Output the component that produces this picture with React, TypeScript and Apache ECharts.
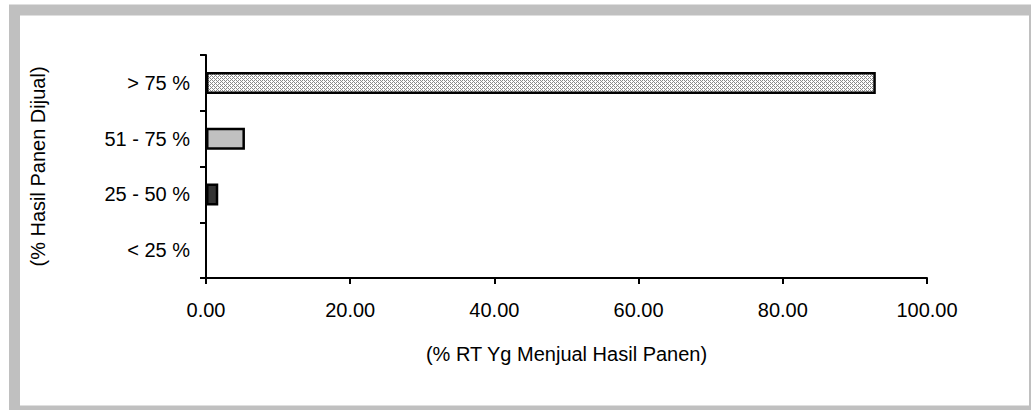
import React, { useEffect, useRef } from "react";
import * as echarts from "echarts";

const categories = ["< 25 %", "25 - 50 %", "51 - 75 %", "> 75 %"];
const values = [0, 1.7, 5.4, 92.9];
const xTicks = [0, 20, 40, 60, 80, 100];
const xTitle = "(% RT Yg Menjual Hasil Panen)";
const yTitle = "(% Hasil Panen Dijual)";

function makePattern(): HTMLCanvasElement {
  const c = document.createElement("canvas");
  c.width = 4;
  c.height = 4;
  const ctx = c.getContext("2d")!;
  ctx.fillStyle = "#ffffff";
  ctx.fillRect(0, 0, 4, 4);
  ctx.fillStyle = "#8a8a8a";
  const cells = [
    [0, 0], [2, 0], [1, 1], [0, 2], [2, 2], [3, 3],
  ];
  cells.forEach(([x, y]) => ctx.fillRect(x, y, 1, 1));
  return c;
}

export default function App() {
  const ref = useRef<HTMLDivElement>(null);
  useEffect(() => {
    const chart = echarts.init(ref.current!, null, { renderer: "svg" });
    const pattern = makePattern();
    const fills: any[] = ["#ffffff", "#333333", "#c0c0c0", { image: pattern, repeat: "repeat" }];
    const font = { fontFamily: "Liberation Sans, Arial, sans-serif", fontSize: 20, color: "#000" };
    chart.setOption({
      animation: false,
      backgroundColor: "#ffffff",
      graphic: [
        {
          type: "rect",
          shape: { x: 14.5, y: 10, width: 1020, height: 401 },
          style: { fill: "none", stroke: "#c0c0c0", lineWidth: 11 },
          silent: true,
          z: -10,
        },
      ],
      grid: { left: 206, right: 104, top: 55, bottom: 132, containLabel: false },
      xAxis: {
        type: "value",
        min: 0,
        max: 100,
        interval: 20,
        name: xTitle,
        nameLocation: "middle",
        nameGap: 66,
        nameTextStyle: font,
        axisLine: { show: true, lineStyle: { color: "#000", width: 2 } },
        axisTick: { show: true, length: 6, lineStyle: { color: "#000", width: 2 } },
        splitLine: { show: false },
        axisLabel: {
          ...font,
          margin: 22,
          formatter: (v: number) => (xTicks.includes(v) ? v.toFixed(2) : ""),
        },
      },
      yAxis: {
        type: "category",
        data: categories,
        name: yTitle,
        nameLocation: "middle",
        nameGap: 158,
        nameRotate: 90,
        nameTextStyle: font,
        axisLine: { show: true, lineStyle: { color: "#000", width: 2 } },
        axisTick: { show: true, length: 6, lineStyle: { color: "#000", width: 2 } },
        axisLabel: { ...font, margin: 16 },
        splitLine: { show: false },
      },
      series: [
        {
          type: "bar",
          data: values.map((v, i) => ({
            value: v,
            itemStyle: {
              color: fills[i],
              borderColor: "#000",
              borderWidth: v > 0 ? 2.5 : 0,
            },
          })),
          barWidth: 22,
        },
      ],
    });
    return () => chart.dispose();
  }, []);
  return <div ref={ref} style={{ width: 1031, height: 410, position: "absolute", left: 0, top: 0 }} />;
}
